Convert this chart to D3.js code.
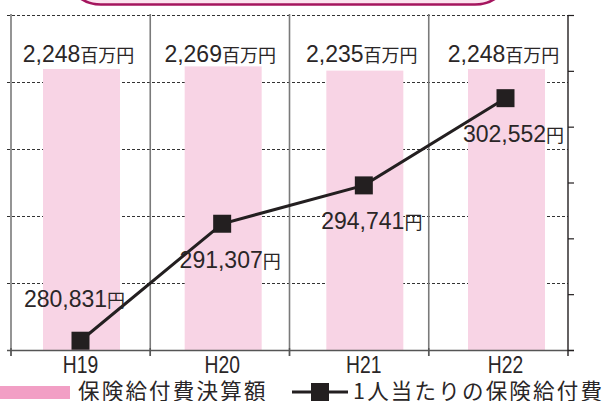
<!DOCTYPE html>
<html><head><meta charset="utf-8">
<script src="https://cdn.jsdelivr.net/npm/d3@7"></script>
<style>
html,body{margin:0;padding:0;background:#fff;overflow:hidden}
svg{display:block}
</style></head>
<body>
<script>
const categories = ["H19", "H20", "H21", "H22"];
const benefitTotal = [2248, 2269, 2235, 2248];          // 百万円
const perCapita = [280831, 291307, 294741, 302552];     // 円
const totalUnit = "百万円";
const perUnit = "円";
const legendBar = "保険給付費決算額";
const legendLine = "1人当たりの保険給付費";
const rightTicks = d3.range(280000, 310001, 5000);
const gridSteps = d3.range(0, 6);

const W = 604, H = 401;
const pLeft = 11, pRight = 568, pTop = 15, pBottom = 350;
const textCol = "#2a2627", ink = "#231f20";
const numFont = "'Liberation Sans', Arial, sans-serif";
const cjkFont = "'Noto Sans CJK JP', 'Noto Sans', sans-serif";

const svg = d3.select("body").append("svg").attr("width", W).attr("height", H);

// top banner (title box, mostly out of view)
svg.append("rect").attr("x", 66).attr("y", -60).attr("width", 444).attr("height", 64.5)
  .attr("rx", 35).attr("ry", 35)
  .attr("fill", "#fce4ef").attr("stroke", "#a5155e").attr("stroke-width", 2.6);

const xBand = d3.scaleBand().domain(categories).range([pLeft, pRight]).padding(0);
const xPt = d3.scalePoint().domain(categories).range([80.5, 505.5]);
const yGrid = d3.scaleLinear().domain([0, 5]).range([pBottom, pTop]);
const yBar = d3.scaleLinear().domain([0, 2680]).range([pBottom, pTop]);
const yLine = d3.scaleLinear().domain([280000, 310000]).range([pBottom, pTop]);

// dashed gridlines
svg.append("g").selectAll("line").data(gridSteps.slice(1)).join("line")
  .attr("x1", pLeft - 4).attr("x2", pRight)
  .attr("y1", d => yGrid(d) + 0.5).attr("y2", d => yGrid(d) + 0.5)
  .attr("stroke", "#333").attr("stroke-width", 1).attr("stroke-dasharray", "3,2");

// vertical separators
const bounds = categories.map(c => xBand(c)).slice(1);
svg.append("g").selectAll("line").data(bounds).join("line")
  .attr("x1", d => d).attr("x2", d => d).attr("y1", pTop - 1).attr("y2", pBottom + 6)
  .attr("stroke", "#7a7a7a").attr("stroke-width", 1.6);
// left axis line
svg.append("line").attr("x1", pLeft).attr("x2", pLeft).attr("y1", pTop - 1).attr("y2", pBottom + 6)
  .attr("stroke", "#7a7a7a").attr("stroke-width", 1.6);

// bars
const bw = 77;
svg.append("g").selectAll("rect").data(benefitTotal).join("rect")
  .attr("x", (d, i) => xPt(categories[i]) + 1 - bw / 2)
  .attr("width", bw)
  .attr("y", d => yBar(d))
  .attr("height", d => pBottom - yBar(d))
  .attr("fill", "#f8d4e5");

// bottom axis
svg.append("line").attr("x1", pLeft - 4).attr("x2", pRight + 6).attr("y1", pBottom + 0.5).attr("y2", pBottom + 0.5)
  .attr("stroke", "#555").attr("stroke-width", 1.4);
svg.append("g").selectAll("line").data([pLeft, ...bounds]).join("line")
  .attr("x1", d => d).attr("x2", d => d).attr("y1", pBottom - 2).attr("y2", pBottom + 6)
  .attr("stroke", "#555").attr("stroke-width", 1.4);

// right axis
const rAxis = d3.axisRight(yLine).tickValues(rightTicks).tickSize(6).tickFormat("");
const rg = svg.append("g").attr("transform", `translate(${pRight},0)`).call(rAxis);
rg.select(".domain").attr("stroke", ink).attr("stroke-width", 1.4).attr("d", `M0,${pTop}V${pBottom + 6}`);
rg.selectAll(".tick line").attr("stroke", ink).attr("stroke-width", 1.2);

// x labels
svg.append("g").selectAll("text").data(categories).join("text")
  .attr("transform", d => `translate(${xPt(d)},373) scale(0.84,1)`)
  .attr("text-anchor", "middle")
  .attr("font-family", numFont).attr("font-size", 23).attr("fill", textCol)
  .text(d => d);

// bar value labels
const bl = svg.append("g").selectAll("text").data(benefitTotal).join("text")
  .attr("x", (d, i) => xPt(categories[i]) - 2).attr("y", 62)
  .attr("text-anchor", "middle").attr("fill", textCol);
bl.append("tspan").attr("font-family", numFont).attr("font-size", 23).text(d => d3.format(",")(d));
bl.append("tspan").attr("font-family", cjkFont).attr("font-size", 18).text(totalUnit);

// line
const line = d3.line().x((d, i) => xPt(categories[i])).y(d => yLine(d));
svg.append("path").datum(perCapita).attr("d", line)
  .attr("fill", "none").attr("stroke", ink).attr("stroke-width", 3);
const ms = 18;
svg.append("g").selectAll("rect").data(perCapita).join("rect")
  .attr("x", (d, i) => xPt(categories[i]) - ms / 2)
  .attr("y", d => yLine(d) - ms / 2)
  .attr("width", ms).attr("height", ms).attr("fill", ink);

// line value labels
const ll = svg.append("g").selectAll("text").data(perCapita).join("text")
  .attr("x", (d, i) => xPt(categories[i]) + (i === 0 ? -6 : 8))
  .attr("y", (d, i) => yLine(d) + (i === 0 ? -34 : 44))
  .attr("text-anchor", "middle").attr("fill", textCol);
ll.append("tspan").attr("font-family", numFont).attr("font-size", 23).text(d => d3.format(",")(d));
ll.append("tspan").attr("font-family", cjkFont).attr("font-size", 18).text(perUnit);

// legend
svg.append("rect").attr("x", 0).attr("y", 386).attr("width", 70).attr("height", 13).attr("fill", "#f29fc5");
svg.append("text").attr("x", 78).attr("y", 399).attr("font-family", cjkFont).attr("font-size", 21.5)
  .attr("letter-spacing", 2.2).attr("fill", textCol).text(legendBar);
svg.append("line").attr("x1", 292).attr("x2", 348).attr("y1", 392).attr("y2", 392)
  .attr("stroke", ink).attr("stroke-width", 3);
svg.append("rect").attr("x", 311).attr("y", 383).attr("width", ms).attr("height", ms).attr("fill", ink);
svg.append("text").attr("x", 353).attr("y", 399).attr("font-family", cjkFont).attr("font-size", 21.5)
  .attr("letter-spacing", 2.2).attr("fill", textCol).text(legendLine);
</script>
</body></html>
